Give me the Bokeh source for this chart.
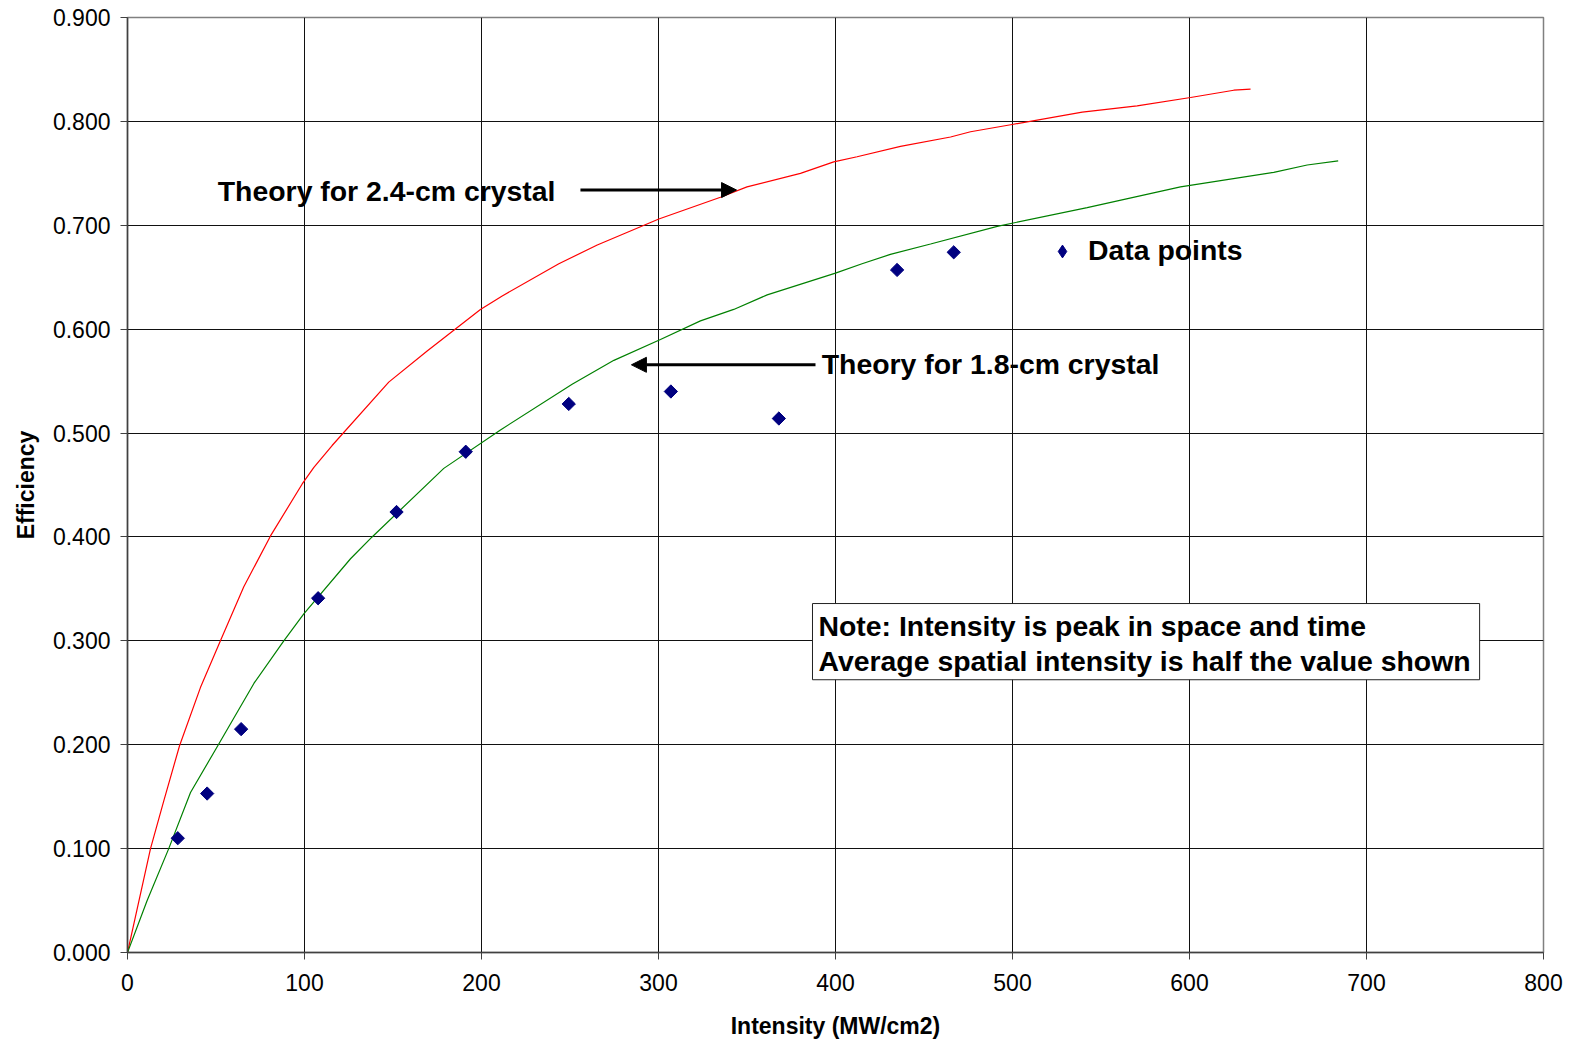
import numpy as np
from bokeh.plotting import figure
from bokeh.models import (Range1d, FixedTicker, NumeralTickFormatter, Arrow,
                          NormalHead, Label, Legend, LegendItem)
from bokeh.embed import file_html
from bokeh.resources import INLINE

# Theory curve for 2.4-cm crystal (red)
red_x = [0, 13.0, 20.5, 29.4, 41.2, 52.5, 65.7, 80.8, 98.7, 105.3, 115.6, 147.6,
         169.3, 199.4, 211.7, 243.7, 265.4, 300.2, 335.0, 350.0, 380.2, 399.0,
         412.2, 436.7, 465.0, 476.3, 499.8, 539.4, 570.4, 600.6, 625.0, 634.5]
red_y = [0, 0.100, 0.146, 0.199, 0.255, 0.300, 0.352, 0.401, 0.451, 0.467, 0.488,
         0.549, 0.579, 0.619, 0.632, 0.663, 0.681, 0.706, 0.727, 0.737, 0.750,
         0.761, 0.766, 0.776, 0.785, 0.790, 0.797, 0.809, 0.815, 0.823, 0.830, 0.831]

# Theory curve for 1.8-cm crystal (green)
green_x = [0, 11.1, 23.3, 35.6, 51.0, 71.4, 88.3, 99.6, 126.0, 138.2, 178.7, 210.7,
           251.2, 274.8, 301.1, 323.7, 342.5, 361.4, 400.0, 415.0, 431.0, 453.7,
           491.4, 542.2, 594.9, 647.6, 666.5, 684.0]
green_y = [0, 0.050, 0.100, 0.154, 0.199, 0.259, 0.300, 0.326, 0.379, 0.400, 0.466,
           0.503, 0.547, 0.570, 0.590, 0.608, 0.619, 0.633, 0.654, 0.663, 0.672,
           0.682, 0.699, 0.717, 0.737, 0.751, 0.758, 0.762]

# Measured data points
data_x = [28.4, 45.0, 64.2, 107.7, 152.0, 191.1, 249.3, 307.0, 368.0, 434.8, 466.8]
data_y = [0.110, 0.153, 0.215, 0.341, 0.424, 0.482, 0.528, 0.540, 0.514, 0.657, 0.674]

x_ticks = [0, 100, 200, 300, 400, 500, 600, 700, 800]
y_ticks = [0.0, 0.1, 0.2, 0.3, 0.4, 0.5, 0.6, 0.7, 0.8, 0.9]

x_title = "Intensity (MW/cm2)"
y_title = "Efficiency"
label_24 = "Theory for 2.4-cm crystal"
label_18 = "Theory for 1.8-cm crystal"
legend_label = "Data points"
note_text = "Note: Intensity is peak in space and time\nAverage spatial intensity is half the value shown"

FONT = "Liberation Sans"
BIG = "28.4px"

p = figure(width=1581, height=1043, x_range=Range1d(0, 800), y_range=Range1d(0, 0.9),
           output_backend="svg", toolbar_location=None,
           min_border_left=127, min_border_right=38, min_border_top=17, min_border_bottom=91)

p.background_fill_color = "white"
p.border_fill_color = "white"
p.outline_line_color = "#808080"
p.outline_line_width = 1.5

p.xgrid.ticker = FixedTicker(ticks=x_ticks)
p.ygrid.ticker = FixedTicker(ticks=y_ticks)
for g in (p.xgrid, p.ygrid):
    g.grid_line_color = "#111111"
    g.grid_line_width = 1

p.xaxis.ticker = FixedTicker(ticks=x_ticks)
p.yaxis.ticker = FixedTicker(ticks=y_ticks)
p.yaxis.formatter = NumeralTickFormatter(format="0.000")
for ax in (p.xaxis, p.yaxis):
    ax.axis_line_color = "#404040"
    ax.axis_line_width = 1.5
    ax.major_tick_line_color = "#404040"
    ax.major_tick_out = 7
    ax.major_tick_in = 0
    ax.minor_tick_out = 0
    ax.minor_tick_in = 0
    ax.major_label_text_font = FONT
    ax.major_label_text_font_size = "23px"
    ax.major_label_text_color = "black"
    ax.axis_label_text_font = FONT
    ax.axis_label_text_font_size = "23px"
    ax.axis_label_text_font_style = "bold"
    ax.axis_label_text_color = "black"

p.xaxis.axis_label = x_title
p.yaxis.axis_label = y_title
p.xaxis.major_label_standoff = 14
p.xaxis.axis_label_standoff = 19
p.yaxis.major_label_standoff = 10
p.yaxis.axis_label_standoff = 11

p.line(red_x, red_y, line_color="#FF0000", line_width=1.2)
p.line(green_x, green_y, line_color="#008000", line_width=1.2)
p.scatter(data_x, data_y, marker="square", angle=np.pi / 4, size=9.4,
          fill_color="#000080", line_color="#000080")
# legend swatch only (not plotted: NaN position); Bokeh legend glyphs ignore marker angle
legend_swatch = p.scatter(x=[np.nan], y=[np.nan], marker="diamond", size=12,
                          fill_color="#000080", line_color="#000080")

legend = Legend(items=[LegendItem(label=legend_label, renderers=[legend_swatch])],
                location=(919, 685), padding=0, margin=0, spacing=0,
                glyph_width=32, glyph_height=32, label_standoff=10,
                border_line_color=None, background_fill_alpha=0,
                label_text_font=FONT, label_text_font_size=BIG,
                label_text_font_style="bold", label_text_color="black")
p.add_layout(legend, "center")

# arrows and their labels
arrow_24 = dict(x0=255.9, x1=344.1, y=0.7339)
arrow_18 = dict(x0=388.7, x1=284.7, y=0.5657)
for a in (arrow_24, arrow_18):
    p.add_layout(Arrow(end=NormalHead(size=15, fill_color="black", line_color="black"),
                       x_start=a["x0"], y_start=a["y"], x_end=a["x1"], y_end=a["y"],
                       line_color="black", line_width=3))

p.add_layout(Label(x=51.0, y=0.733, text=label_24, text_align="left", text_baseline="middle",
                   text_font=FONT, text_font_size=BIG, text_font_style="bold",
                   text_color="black"))
p.add_layout(Label(x=392.2, y=0.566, text=label_18, text_align="left", text_baseline="middle",
                   text_font=FONT, text_font_size=BIG, text_font_style="bold",
                   text_color="black"))

p.add_layout(Label(x=387.0, y=0.3359, text=note_text, text_align="left", text_baseline="top",
                   text_font=FONT, text_font_size=BIG, text_font_style="bold",
                   text_line_height=1.1,
                   text_color="black", background_fill_color="white",
                   border_line_color="#222222", border_line_width=1,
                   padding=dict(left=6, right=9, top=6, bottom=3)))

open("out.html", "w").write(file_html(p, INLINE))
